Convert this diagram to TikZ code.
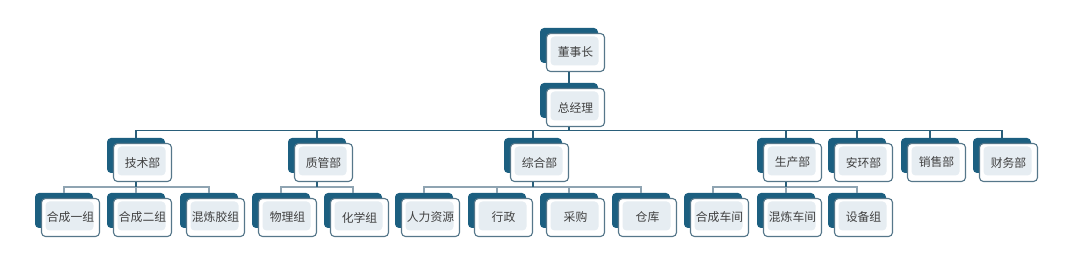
\documentclass[tikz,border=0pt]{standalone}
\usepackage{fontspec}
\newfontfamily\cjk{Noto Sans CJK SC}
\definecolor{backc}{HTML}{1C5F80}
\definecolor{frontline}{HTML}{56778A}
\definecolor{innerc}{HTML}{E6EDF2}
\definecolor{darkln}{HTML}{2A5F7A}
\definecolor{grayln}{HTML}{8FA4B2}
\definecolor{txtc}{HTML}{404040}
\tikzset{
  backbox/.style={fill=backc, rounded corners=4pt, minimum width=58pt, minimum height=35pt, inner sep=0pt},
  frontbox/.style={fill=white, draw=frontline, line width=1.1pt, rounded corners=4pt,
    minimum width=58pt, minimum height=38pt, inner sep=0pt, font=\cjk\fontsize{11.8}{14}\selectfont, text=txtc,
    path picture={\fill[innerc] ([xshift=4pt,yshift=-3pt]path picture bounding box.north west) rectangle ([xshift=-6pt,yshift=6pt]path picture bounding box.south east);}},
  darkline/.style={draw=darkln, line width=1.2pt},
  grayline/.style={draw=grayln, line width=1.8pt},
}
\newcommand\orgbox[4]{%
  \node[backbox] (#1b) at (#2, #3+17.5) {};
  \node[frontbox] (#1) at (#2+6.5, #3+24.5) {#4};
}
\newcommand\linkdown[3]{%
  \path ([yshift=#3]#2b.north) coordinate (#2bus);
  \draw[grayline] (#2bus -| #1b.center) -- (#2bus) -- (#2b.north);
  \draw[darkline] (#1b.center |- #1.south) -- (#2bus -| #1b.center);
}
\newcommand\linkdark[3]{%
  \path ([yshift=#3]#2b.north) coordinate (#2bus);
  \draw[darkline] (#1b.center |- #1.south) |- (#2bus) -- (#2b.north);
}
\begin{document}
\begin{tikzpicture}[x=1pt,y=-1pt]
\useasboundingbox (0,0) rectangle (1068,275);
% level 0 and 1
\orgbox{dsz}{569}{28}{董事长}
\orgbox{zjl}{569}{83}{总经理}
% level 2
\orgbox{js}{136}{138}{技术部}
\orgbox{zg}{317}{138}{质管部}
\orgbox{zh}{533}{138}{综合部}
\orgbox{sc}{786}{138}{生产部}
\orgbox{ah}{857}{138}{安环部}
\orgbox{xs}{930}{138}{销售部}
\orgbox{cw}{1002}{138}{财务部}
% level 3
\orgbox{hcyz}{64}{193}{合成一组}
\orgbox{hcez}{136}{193}{合成二组}
\orgbox{hljz}{209}{193}{混炼胶组}
\orgbox{wlz}{281}{193}{物理组}
\orgbox{hxz}{353}{193}{化学组}
\orgbox{rlzy}{424}{193}{人力资源}
\orgbox{xz}{497}{193}{行政}
\orgbox{cg}{569}{193}{采购}
\orgbox{ck}{641}{193}{仓库}
\orgbox{hccj}{713}{193}{合成车间}
\orgbox{hlcj}{786}{193}{混炼车间}
\orgbox{sbz}{857}{193}{设备组}
% connectors
\draw[darkline] (dszb.center |- dsz.south) -- (zjlb.north);
\foreach \c in {js,zg,zh,sc,ah,xs,cw} {\linkdark{zjl}{\c}{7pt}}
\foreach \c in {hcyz,hcez,hljz} {\linkdown{js}{\c}{6pt}}
\foreach \c in {wlz,hxz} {\linkdown{zg}{\c}{6pt}}
\foreach \c in {rlzy,xz,cg,ck} {\linkdown{zh}{\c}{6pt}}
\foreach \c in {hccj,hlcj,sbz} {\linkdown{sc}{\c}{6pt}}
\end{tikzpicture}
\end{document}
